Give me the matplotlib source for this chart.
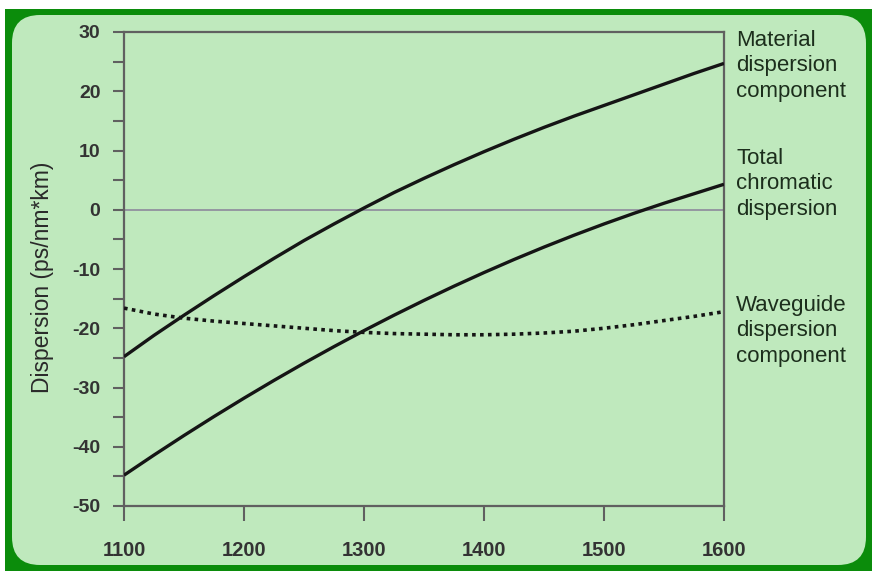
import matplotlib
matplotlib.use("Agg")
import matplotlib.pyplot as plt
from matplotlib.patches import FancyBboxPatch, Rectangle
from matplotlib.ticker import MultipleLocator

wavelength = [1100, 1125, 1150, 1175, 1200, 1225, 1250, 1275, 1300, 1325, 1350,
              1375, 1400, 1425, 1450, 1475, 1500, 1525, 1550, 1575, 1600]
material = [-24.8, -21.2, -17.8, -14.5, -11.3, -8.2, -5.2, -2.4, 0.3, 2.9, 5.3,
            7.6, 9.8, 11.9, 13.9, 15.8, 17.6, 19.4, 21.2, 23.0, 24.7]
total = [-44.8, -41.4, -38.1, -34.9, -31.8, -28.8, -25.9, -23.1, -20.4, -17.8, -15.3,
         -12.9, -10.6, -8.4, -6.3, -4.3, -2.4, -0.6, 1.1, 2.7, 4.3]
waveguide = [-16.6, -17.6, -18.3, -18.8, -19.2, -19.6, -20.0, -20.4, -20.7, -20.9, -21.0,
             -21.1, -21.1, -21.0, -20.8, -20.5, -20.0, -19.4, -18.7, -18.0, -17.2]
xticks = [1100, 1200, 1300, 1400, 1500, 1600]
yticks = [30, 20, 10, 0, -10, -20, -30, -40, -50]
labels = ["Material\ndispersion\ncomponent",
          "Total\nchromatic\ndispersion",
          "Waveguide\ndispersion\ncomponent"]
ylabel = "Dispersion (ps/nm*km)"

W, H = 872, 571
plt.rcParams['font.family'] = ['Liberation Sans', 'DejaVu Sans']
fig = plt.figure(figsize=(W / 100, H / 100), dpi=100)
fig.patch.set_facecolor('white')

def fx(px):
    return px / W

def fy(py):
    return 1 - py / H

dark = '#0b8c0b'
light = '#bfe9bd'
# outer dark green frame
fig.patches.append(Rectangle((fx(5), fy(571)), fx(872) - fx(5), fy(9) - fy(571),
                             transform=fig.transFigure, facecolor=dark, edgecolor='none', zorder=-2))
# inner light panel with rounded corners
pad_r = 28
x0, x1, y0, y1 = 12, 866, 15, 565
fig.patches.append(FancyBboxPatch((fx(x0 + pad_r), fy(y1 - pad_r)),
                                  fx(x1 - x0 - 2 * pad_r), fy(0) - fy(y1 - y0 - 2 * pad_r),
                                  boxstyle=f"round,pad={pad_r / W},rounding_size={pad_r / W}",
                                  transform=fig.transFigure, facecolor=light, edgecolor='none',
                                  mutation_aspect=W / H, zorder=-1))

ax = fig.add_axes([fx(124), fy(506), fx(724) - fx(124), fy(32) - fy(506)])
ax.set_zorder(5)
ax.set_facecolor(light)
ax.set_xlim(1100, 1600)
ax.set_ylim(-50, 30)

spine_c = '#606060'
for s in ax.spines.values():
    s.set_color(spine_c)
    s.set_linewidth(1.6)

ax.axhline(0, color='#8d8a9c', lw=1.2, zorder=1)

ax.plot(wavelength, material, color='#151515', lw=2.4, zorder=3, solid_capstyle='butt')
ax.plot(wavelength, total, color='#151515', lw=2.4, zorder=3, solid_capstyle='butt')
ax.plot(wavelength, waveguide, color='#151515', lw=2.6, zorder=3, linestyle=(0, (1, 1.2)))

ax.set_xticks(xticks)
ax.set_xticklabels([str(v) for v in xticks])
ax.set_yticks(yticks)
ax.set_yticklabels([str(v) for v in yticks])
ax.yaxis.set_minor_locator(MultipleLocator(5))

ax.tick_params(axis='y', which='both', direction='out', length=8, width=1.5, color=spine_c,
               pad=9, labelsize=14, labelcolor='#333333')
ax.tick_params(axis='x', which='both', direction='out', length=11, width=1.5, color=spine_c,
               pad=14, labelsize=14.5, labelcolor='#333333')
for lab in ax.get_xticklabels() + ax.get_yticklabels():
    lab.set_fontweight('bold')

fig.text(fx(42), fy(277), ylabel, rotation=90, ha='center', va='center',
         fontsize=16.5, color='#2a2a2a')

tops = [30, 148, 295]
for t, lab in zip(tops, labels):
    fig.text(fx(736), fy(t), lab, ha='left', va='top', fontsize=16,
             color='#1c2e1c', linespacing=1.28)

fig.savefig('out.png', dpi=100, facecolor=fig.get_facecolor())
